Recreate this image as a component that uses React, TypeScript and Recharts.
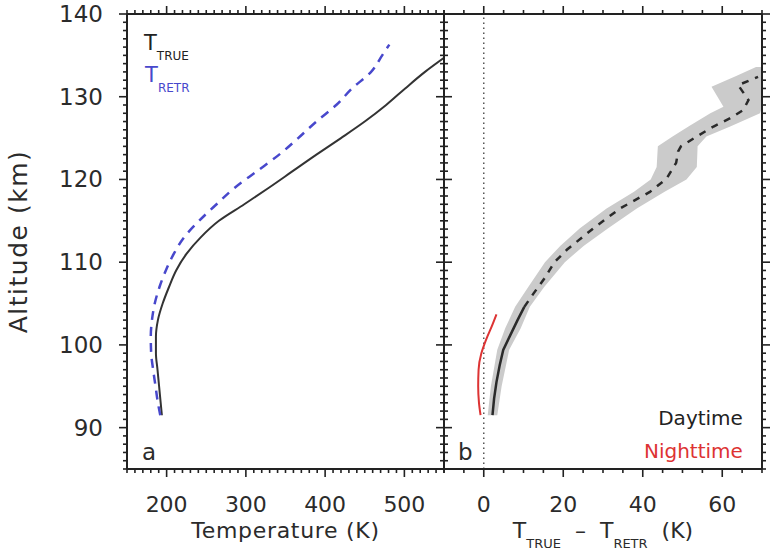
import React from "react";
import { ComposedChart, Line, Area, XAxis, YAxis, ReferenceLine, ReferenceDot } from "recharts";

const FONT = "'DejaVu Sans', Verdana, sans-serif";
const INK = "#222222";
const TEXT = "#2b2b2b";
const BLUE = "#4848cc";
const RED = "#dd3333";
const BAND = "#cbcbcb";

// panel a: temperature profiles, altitude (km) vs temperature (K)
const trueAlt = [91.5, 93, 95, 97, 99, 101, 103, 105, 107, 109, 111, 113, 115, 117, 119, 121, 123, 125, 127, 129, 131, 133, 134.7];
const trueTemp = [194, 192.5, 190.5, 188.5, 186.5, 186.5, 189, 195, 203, 212, 225, 243, 266, 298, 329, 359, 389, 420, 450, 477, 501, 526, 550];
const retrAlt = [91.5, 93, 95, 97, 99, 101, 103, 105, 107, 109, 111, 113, 115, 117, 119, 121, 123, 125, 127, 129, 131, 133, 135, 136.3];
const retrTemp = [192, 189, 186, 183, 180.5, 180, 181.5, 185, 191, 199, 209, 222, 241, 263, 286, 314, 342, 366, 389, 414, 434, 458, 472, 481];

// panel b: T_TRUE - T_RETR (K)
const nightAlt = [91.5, 93, 95, 97, 99, 100, 101, 102, 103.7];
const nightDiff = [-0.8, -1.2, -1.4, -1.3, -0.6, 0.1, 0.9, 1.8, 3.2];
const dayLowAlt = [91.5, 93.5, 95.5, 97.5, 99.4, 101, 103, 104.6];
const dayLowDiff = [2.2, 2.6, 3.2, 4.0, 4.9, 6.5, 8.5, 10.2];
const dayHighAlt = [104.6, 106.2, 108, 110, 111.5, 114.1, 116.5, 118.5, 120.1, 122, 123.4, 124, 125.2, 126.4, 127.4, 128.4, 129.6, 131.4, 132, 132.4];
const dayHighDiff = [10.2, 12.5, 15.2, 17.8, 20.9, 27.6, 34.3, 41.8, 46.0, 48.4, 48.9, 49.6, 53.6, 57.8, 62.0, 65.3, 66.6, 64.0, 67.0, 69.0];
const bandAlt = [91.5, 95, 99.4, 102, 104.6, 107, 110, 112, 114.1, 116.5, 118.5, 120, 121.5, 124, 125.2, 126.4, 128, 128.8, 131.2, 132.5, 133.6];
const bandLo = [1.0, 1.8, 3.4, 5.4, 7.9, 11.2, 15.4, 19.3, 24.2, 30.9, 37.8, 42.0, 43.5, 43.8, 47.5, 51.5, 57.0, 60.3, 57.3, 63.5, 68.5];
const bandHi = [3.4, 4.5, 6.4, 9.3, 11.6, 15.2, 20.4, 25.2, 31.3, 38.5, 45.5, 51.0, 53.6, 53.8, 56.0, 62.0, 69.5, 70, 70, 70, 70];

// axes
const altDomain = [85, 140];
const tempDomain = [150, 550];
const diffDomain = [-10, 70];
const altTicks = [90, 100, 110, 120, 130, 140];
const tempTicks = [200, 300, 400, 500];
const diffTicks = [0, 20, 40, 60];

const steps = (lo: number, hi: number, step: number) => {
  const out: number[] = [];
  for (let v = lo; v <= hi + 1e-9; v += step) out.push(Math.round(v * 100) / 100);
  return out;
};
const altMinor = steps(85, 140, 1);
const tempMinor = steps(150, 550, 10);
const diffMinor = steps(-10, 70, 5);

const profile = (alts: number[], vals: number[]) => alts.map((alt, i) => ({ alt, v: vals[i] }));
const trueData = profile(trueAlt, trueTemp);
const retrData = profile(retrAlt, retrTemp);
const nightData = profile(nightAlt, nightDiff);
const dayLowData = profile(dayLowAlt, dayLowDiff);
const dayHighData = profile(dayHighAlt, dayHighDiff);
const bandData = bandAlt.map((alt, i) => ({ alt, range: [bandLo[i], bandHi[i]] }));

type Side = "left" | "right" | "top" | "bottom";

// ticks drawn by hand: long for labelled values, short for minor ones, pointing outward
function tickRenderer(side: Side, majors: number[], labelled: boolean) {
  return (props: any) => {
    const { x, y, payload } = props;
    const v = payload.value;
    const major = majors.includes(v);
    const len = major ? 8 : 4;
    const dx = side === "left" ? -len : side === "right" ? len : 0;
    const dy = side === "top" ? -len : side === "bottom" ? len : 0;
    return (
      <g>
        <line x1={x} y1={y} x2={x + dx} y2={y + dy} stroke={INK} strokeWidth={1.6} />
        {labelled && major && side === "left" && (
          <text x={x - 24} y={y + 8} textAnchor="end" fontSize={23} fill={TEXT} fontFamily={FONT}>
            {v}
          </text>
        )}
        {labelled && major && side === "bottom" && (
          <text x={x} y={y + 43} textAnchor="middle" fontSize={22} fill={TEXT} fontFamily={FONT}>
            {v}
          </text>
        )}
      </g>
    );
  };
}

const axisLine = { stroke: INK, strokeWidth: 2 };

function AltTitle({ viewBox }: any) {
  const cy = viewBox.y + viewBox.height / 2;
  return (
    <text transform={`translate(${viewBox.x + 27}, ${cy}) rotate(-90)`} textAnchor="middle" fontSize={25} letterSpacing={1.5} fill={TEXT} fontFamily={FONT}>
      Altitude (km)
    </text>
  );
}

function TempTitle({ viewBox }: any) {
  return (
    <text x={viewBox.x + viewBox.width / 2} y={viewBox.y + 69} textAnchor="middle" fontSize={22} letterSpacing={0.7} fill={TEXT} fontFamily={FONT}>
      Temperature (K)
    </text>
  );
}

function DiffTitle({ viewBox }: any) {
  return (
    <text x={viewBox.x + viewBox.width / 2} y={viewBox.y + 69} textAnchor="middle" fontSize={22} fill={TEXT} fontFamily={FONT} style={{ whiteSpace: "pre" }}>
      T<tspan fontSize={13} dy={10}>TRUE</tspan>
      <tspan dy={-10}>{"  –  "}</tspan>T<tspan fontSize={13} dy={10}>RETR</tspan>
      <tspan dy={-10}>{"  (K)"}</tspan>
    </text>
  );
}

function Note({ viewBox, txt, ink = TEXT, size = 20, side = "start" }: any) {
  return (
    <text x={viewBox.x} y={viewBox.y} textAnchor={side} fontSize={size} fill={ink} fontFamily={FONT}>
      {txt}
    </text>
  );
}

function SubNote({ viewBox, main, sub, ink }: any) {
  return (
    <text x={viewBox.x} y={viewBox.y} fontSize={21} fill={ink} fontFamily={FONT}>
      {main}
      <tspan fontSize={12} dy={10}>{sub}</tspan>
    </text>
  );
}

const noDot = () => <g />;

function PanelA() {
  return (
    <ComposedChart layout="vertical" width={464} height={552} margin={{ top: 0, right: 0, bottom: 0, left: 0 }}>
      <XAxis type="number" domain={tempDomain} allowDataOverflow ticks={tempMinor} interval={0} tickLine={false} tickSize={0} tickMargin={0} height={83} axisLine={axisLine} tick={tickRenderer("bottom", tempTicks, true)} label={<TempTitle />} />
      <XAxis xAxisId="top" orientation="top" type="number" domain={tempDomain} allowDataOverflow ticks={tempMinor} interval={0} tickLine={false} tickSize={0} tickMargin={0} height={14} axisLine={axisLine} tick={tickRenderer("top", tempTicks, false)} />
      <YAxis type="number" dataKey="alt" reversed domain={altDomain} allowDataOverflow ticks={altMinor} interval={0} tickLine={false} tickSize={0} tickMargin={0} width={127} axisLine={axisLine} tick={tickRenderer("left", altTicks, true)} label={<AltTitle />} />
      <YAxis yAxisId="right" orientation="right" type="number" dataKey="alt" reversed domain={altDomain} allowDataOverflow ticks={altMinor} interval={0} tickLine={false} tickSize={0} tickMargin={0} width={20} axisLine={axisLine} tick={tickRenderer("right", altTicks, false)} />
      <Line data={trueData} dataKey="v" type="monotone" stroke="#333333" strokeWidth={2} dot={false} activeDot={false} isAnimationActive={false} />
      <Line data={retrData} dataKey="v" type="monotone" stroke={BLUE} strokeWidth={2.5} strokeDasharray="9 7" dot={false} activeDot={false} isAnimationActive={false} />
      <ReferenceDot x={171.5} y={135.65} r={0} shape={noDot} label={<SubNote main="T" sub="TRUE" ink={INK} />} />
      <ReferenceDot x={172.8} y={131.78} r={0} shape={noDot} label={<SubNote main="T" sub="RETR" ink={BLUE} />} />
      <ReferenceDot x={168.9} y={86.1} r={0} shape={noDot} label={<Note txt="a" size={23} />} />
    </ComposedChart>
  );
}

function PanelB() {
  return (
    <ComposedChart layout="vertical" width={347} height={552} margin={{ top: 0, right: 0, bottom: 0, left: 0 }}>
      <XAxis type="number" domain={diffDomain} allowDataOverflow ticks={diffMinor} interval={0} tickLine={false} tickSize={0} tickMargin={0} height={83} axisLine={axisLine} tick={tickRenderer("bottom", diffTicks, true)} label={<DiffTitle />} />
      <XAxis xAxisId="top" orientation="top" type="number" domain={diffDomain} allowDataOverflow ticks={diffMinor} interval={0} tickLine={false} tickSize={0} tickMargin={0} height={14} axisLine={axisLine} tick={tickRenderer("top", diffTicks, false)} />
      <YAxis type="number" dataKey="alt" reversed domain={altDomain} allowDataOverflow ticks={altMinor} interval={0} tickLine={false} tickSize={0} tickMargin={0} width={20} axisLine={axisLine} tick={tickRenderer("left", altTicks, false)} />
      <YAxis yAxisId="right" orientation="right" type="number" dataKey="alt" reversed domain={altDomain} allowDataOverflow ticks={altMinor} interval={0} tickLine={false} tickSize={0} tickMargin={0} width={9} axisLine={axisLine} tick={tickRenderer("right", altTicks, false)} />
      <Area data={bandData} dataKey="range" type="linear" stroke="none" fill={BAND} fillOpacity={1} dot={false} activeDot={false} isAnimationActive={false} />
      <ReferenceLine x={0} stroke="#555555" strokeWidth={1.5} strokeDasharray="1.5 3.5" />
      <Line data={nightData} dataKey="v" type="monotone" stroke={RED} strokeWidth={2} dot={false} activeDot={false} isAnimationActive={false} />
      <Line data={dayLowData} dataKey="v" type="linear" stroke="#2a2a2a" strokeWidth={2.5} dot={false} activeDot={false} isAnimationActive={false} />
      <Line data={dayHighData} dataKey="v" type="linear" stroke="#2a2a2a" strokeWidth={2.5} strokeDasharray="7 7" dot={false} activeDot={false} isAnimationActive={false} />
      <ReferenceDot x={65.2} y={90.3} r={0} shape={noDot} label={<Note txt="Daytime" side="end" ink={INK} />} />
      <ReferenceDot x={65.2} y={86.33} r={0} shape={noDot} label={<Note txt="Nighttime" side="end" ink={RED} />} />
      <ReferenceDot x={-6.5} y={86.1} r={0} shape={noDot} label={<Note txt="b" size={23} />} />
    </ComposedChart>
  );
}

export default function App() {
  return (
    <div style={{ position: "absolute", left: 0, top: 0, width: 771, height: 552, background: "#ffffff", fontFamily: FONT }}>
      <div style={{ position: "absolute", left: 0, top: 0 }}>
        <PanelA />
      </div>
      <div style={{ position: "absolute", left: 424, top: 0 }}>
        <PanelB />
      </div>
    </div>
  );
}
